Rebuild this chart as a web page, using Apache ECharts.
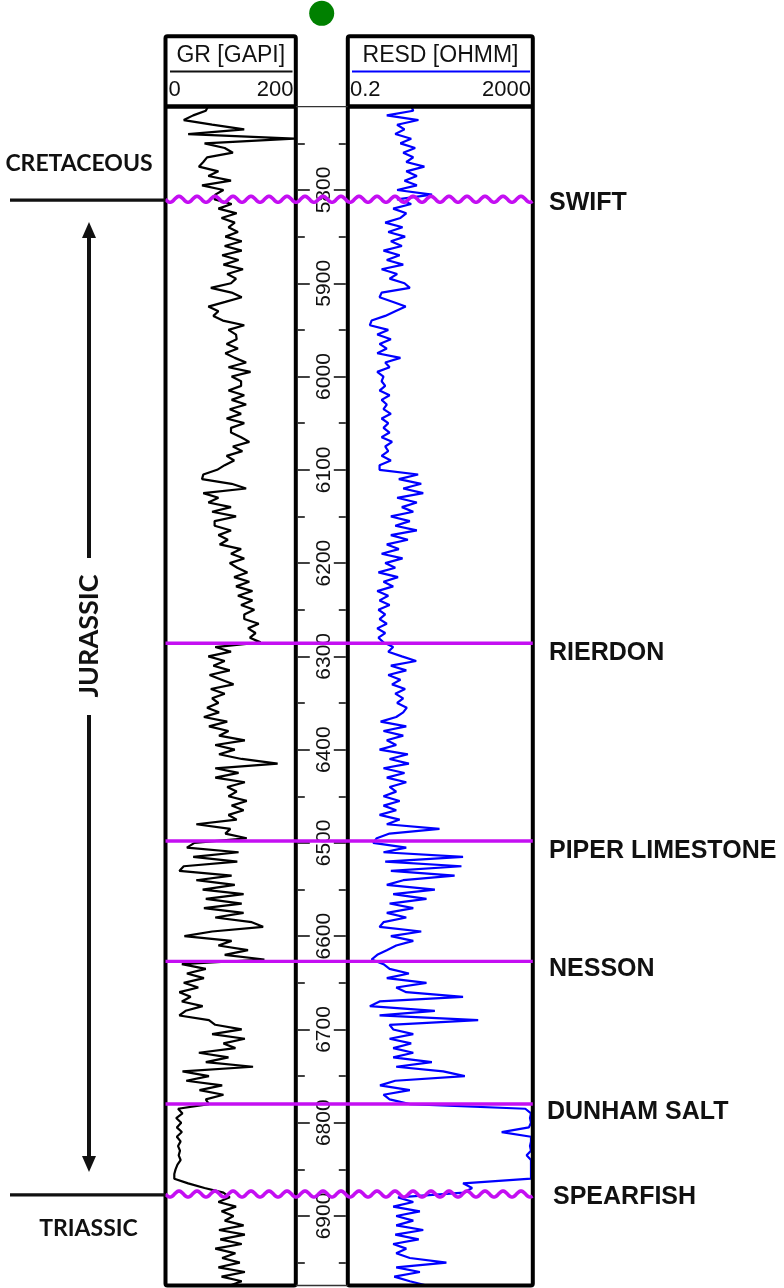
<!DOCTYPE html>
<html>
<head>
<meta charset="utf-8">
<script src="https://cdn.jsdelivr.net/npm/echarts@6/dist/echarts.min.js"></script>
<style>
  html, body { margin: 0; padding: 0; background: #fff; }
  #chart { width: 784px; height: 1288px; }
</style>
</head>
<body>
<div id="chart"></div>
<script>
// ---- Log data -------------------------------------------------------------
const DEPTH_TOP = 5710;      // ft, top of displayed interval
const DEPTH_BASE = 6975;     // ft, base of displayed interval
const SAMPLE_STEP = 5;       // ft between log samples

// Gamma ray, GAPI (one sample every 5 ft from 5710 ft)
const grValues = [
  64, 60, 40, 25, 70, 121, 32, 200, 58, 90,
  103, 62, 56, 49, 80, 64, 100, 54, 88, 75,
  74, 101, 80, 109, 85, 106, 96, 111, 91, 117,
  90, 117, 86, 112, 88, 119, 94, 108, 100, 68,
  101, 117, 91, 64, 80, 72, 87, 121, 96, 108,
  109, 93, 111, 91, 106, 124, 96, 131, 101, 116,
  116, 96, 121, 101, 124, 98, 116, 93, 121, 100,
  100, 116, 129, 103, 118, 93, 105, 90, 78, 56,
  54, 101, 124, 56, 80, 64, 100, 70, 108, 74,
  74, 100, 80, 95, 82, 116, 100, 121, 98, 110,
  126, 105, 129, 108, 134, 111, 134, 116, 137, 121,
  121, 144, 127, 139, 130, 147, 75, 100, 64, 90,
  72, 98, 66, 85, 104, 68, 90, 70, 80, 62,
  81, 57, 94, 65, 96, 81, 122, 75, 106, 81,
  117, 174, 75, 112, 75, 122, 94, 109, 96, 125,
  101, 120, 96, 109, 45, 99, 91, 125, 42, 30,
  112, 40, 110, 25, 18, 101, 45, 106, 55, 120,
  60, 117, 57, 120, 75, 133, 151, 70, 26, 101,
  80, 127, 90, 153, 22, 60, 30, 57, 25, 48,
  18, 36, 22, 55, 28, 18, 65, 75, 117, 70,
  122, 88, 107, 49, 96, 60, 135, 23, 65, 29,
  86, 50, 88, 60, 65, 16, 23, 13, 21, 14,
  22, 14, 20, 16, 19, 17, 20, 15, 12, 10,
  10, 32, 58, 88, 98, 80, 108, 85, 104, 90,
  120, 81, 122, 83, 117, 75, 107, 86, 114, 80,
  122, 85, 117, 96, 100
];

// Deep resistivity, ohm.m (same sampling)
const resdValues = [
  4.5, 5.0, 1.3, 6.5, 2.2, 3.2, 2.0, 4.5, 2.6, 5.5,
  3.0, 5.0, 3.5, 8.8, 3.5, 6.0, 3.2, 6.0, 2.2, 13,
  2.2, 4.5, 1.8, 3.5, 2.6, 1.2, 2.9, 1.4, 3.3, 1.6,
  2.8, 1.1, 2.5, 1.3, 3.0, 1.0, 2.2, 1.5, 3.2, 4.2,
  1.0, 0.9, 1.8, 3.4, 2.0, 1.2, 0.6, 0.55, 1.4, 0.8,
  1.6, 0.9, 1.3, 0.8, 2.6, 1.2, 1.5, 0.8, 1.1, 1.0,
  1.2, 0.9, 1.5, 1.0, 1.3, 1.1, 1.6, 1.0, 1.4, 1.1,
  1.5, 1.0, 1.7, 1.2, 1.4, 1.0, 1.6, 0.9, 0.9, 6.4,
  2.4, 7.5, 3.0, 8.3, 2.2, 6.0, 2.8, 5.0, 1.6, 4.2,
  2.0, 6.0, 1.6, 3.8, 1.3, 2.4, 1.0, 2.9, 1.2, 2.0,
  0.85, 2.3, 1.1, 1.8, 0.8, 1.4, 0.9, 1.5, 0.85, 1.2,
  0.9, 1.3, 0.8, 1.2, 0.85, 1.1, 1.8, 1.4, 2.8, 5.8,
  1.6, 3.5, 1.4, 2.6, 1.7, 3.3, 2.0, 3.0, 2.2, 3.6,
  3.0, 2.1, 0.95, 3.5, 1.1, 3.0, 1.3, 2.1, 0.9, 3.8,
  1.5, 4.0, 1.1, 3.2, 1.3, 3.5, 1.5, 2.1, 1.1, 2.5,
  1.1, 2.1, 0.9, 2.5, 1.3, 19, 1.5, 0.78, 0.65, 3.5,
  1.1, 63, 1.2, 58, 1.6, 41, 3.0, 1.3, 15, 1.8,
  9.8, 1.5, 5.0, 1.3, 3.5, 1.1, 0.9, 7.5, 1.6, 5.0,
  2.1, 1.3, 0.8, 0.6, 1.1, 1.5, 4.0, 1.3, 9.8, 2.1,
  3.5, 63, 0.9, 0.55, 15, 0.9, 136, 1.5, 1.8, 5.0,
  1.5, 4.5, 1.8, 5.0, 1.8, 12.9, 2.1, 23, 69, 2.0,
  0.92, 4.2, 1.1, 1.5, 4.2, 1500, 2000, 1900, 2000, 1800,
  450, 2000, 2000, 1900, 2000, 1600, 2000, 2000, 2000, 2000,
  2000, 63, 100, 65, 2.3, 5.0, 1.8, 7.0, 2.1, 5.0,
  2.1, 8.3, 2.0, 6.6, 1.8, 3.5, 2.1, 4.2, 27, 2.1,
  7.0, 1.9, 4.2, 11, 3.0
];

// Depth scale ticks (ft)
const depthLabels = [5800, 5900, 6000, 6100, 6200, 6300, 6400, 6500, 6600, 6700, 6800, 6900];
const depthMinorTicks = [5750, 5850, 5950, 6050, 6150, 6250, 6350, 6450, 6550, 6650, 6750, 6850, 6950];

// Formation tops
const topNames = ['SWIFT', 'RIERDON', 'PIPER LIMESTONE', 'NESSON', 'DUNHAM SALT', 'SPEARFISH'];
const topDepths = [5810, 6286, 6498, 6627, 6780, 6876.5];
const topUnconformity = [true, false, false, false, false, true];

// Systems
const systemNames = ['CRETACEOUS', 'JURASSIC', 'TRIASSIC'];

// Curve axis ranges
const grRange = [0, 200];
const resdRange = [0.2, 2000];

// ---- Layout / style -------------------------------------------------------
const PX_TOP = 106.05;
const PX_PER_FT = 0.93273;
const PLOT_H = (DEPTH_BASE - DEPTH_TOP) * PX_PER_FT;
const TOP_COLOR = '#c40ff2';
const TOP_LABEL_X = [549, 549, 549, 549, 547, 553];
const TOP_LABEL_DY = [4, 10, 10, 8, 8, 3];

const sampleDepths = grValues.map((_, i) => DEPTH_TOP + i * SAMPLE_STEP);
const grData = sampleDepths.map((d, i) => [grValues[i], d]);
const resdData = sampleDepths.map((d, i) => [resdValues[i], d]);

const depthAxisBase = {
  type: 'value', inverse: true, min: DEPTH_TOP, max: DEPTH_BASE,
  splitLine: { show: false }, axisLine: { show: false, onZero: false }
};
function hiddenY(gridIndex) {
  return Object.assign({}, depthAxisBase, { gridIndex, show: false });
}
function tickAxis(position, values, len, withLabels) {
  return Object.assign({}, depthAxisBase, {
    gridIndex: 1, position,
    axisTick: { show: true, inside: true, length: len, customValues: values,
                lineStyle: { color: '#111', width: 1.6 } },
    axisLabel: withLabels ? {
      show: true, inside: true, rotate: 90, margin: 26, customValues: values,
      formatter: v => String(v),
      align: 'center', verticalAlign: 'middle',
      fontFamily: 'Liberation Sans, Arial, sans-serif', fontSize: 21, color: '#111'
    } : { show: false }
  });
}

const FONT_HDR = '23px "Liberation Sans", Arial, sans-serif';
const FONT_SCALE = '22px "Liberation Sans", Arial, sans-serif';
const FONT_TOP = 'bold 25px "Liberation Sans", Arial, sans-serif';
const FONT_SYS = 'bold 23px Lato, "Open Sans", sans-serif';
const FONT_SYS_BIG = 'bold 27px Lato, "Open Sans", sans-serif';

const GR_L = 165.5, GR_R = 295.8, RS_L = 347.8, RS_R = 532.8;
const HDR_T = 36.2, HDR_B = 106.6, TRK_B = 1285.5;

function frame(l, r) {
  return [
    { type: 'rect', z: 100, shape: { x: l, y: HDR_T, width: r - l, height: TRK_B - HDR_T, r: 2 },
      style: { fill: 'none', stroke: '#000', lineWidth: 4 } },
    { type: 'line', z: 100, shape: { x1: l, y1: HDR_B, x2: r, y2: HDR_B },
      style: { stroke: '#000', lineWidth: 4.5 } }
  ];
}
function txt(text, x, y, font, align, extra) {
  return Object.assign({ type: 'text', z: 100, x, y,
    style: { text, font, fill: '#111', align: align || 'center', verticalAlign: 'middle' } }, extra || {});
}

const graphics = [
  { type: 'circle', z: 100, shape: { cx: 321.7, cy: 13.3, r: 12.5 }, style: { fill: '#008000' } },
  ...frame(GR_L, GR_R),
  ...frame(RS_L, RS_R),
  { type: 'line', z: 100, shape: { x1: GR_R, y1: HDR_B, x2: RS_L, y2: HDR_B }, style: { stroke: '#333', lineWidth: 1.3 } },
  { type: 'line', z: 100, shape: { x1: GR_R, y1: TRK_B, x2: RS_L, y2: TRK_B }, style: { stroke: '#333', lineWidth: 1.3 } },
  // track headers
  txt('GR [GAPI]', 230.8, 56, FONT_HDR),
  { type: 'line', z: 100, shape: { x1: 170, y1: 71.5, x2: 292.5, y2: 71.5 }, style: { stroke: '#111', lineWidth: 2 } },
  txt(String(grRange[0]), 168.5, 89.5, FONT_SCALE, 'left'),
  txt(String(grRange[1]), 293.5, 89.5, FONT_SCALE, 'right'),
  txt('RESD [OHMM]', 440.5, 56, FONT_HDR),
  { type: 'line', z: 100, shape: { x1: 352, y1: 71.5, x2: 530, y2: 71.5 }, style: { stroke: '#0000ff', lineWidth: 2 } },
  txt(String(resdRange[0]), 350, 89.5, FONT_SCALE, 'left'),
  txt(String(resdRange[1]), 531, 89.5, FONT_SCALE, 'right'),
  // systems column
  txt(systemNames[0], 79, 164, FONT_SYS),
  txt(systemNames[1], 89, 636, FONT_SYS_BIG, 'center', { rotation: Math.PI / 2 }),
  txt(systemNames[2], 88.5, 1228.5, FONT_SYS),
  { type: 'line', z: 100, shape: { x1: 89, y1: 234, x2: 89, y2: 558 }, style: { stroke: '#111', lineWidth: 4 } },
  { type: 'line', z: 100, shape: { x1: 89, y1: 715, x2: 89, y2: 1160 }, style: { stroke: '#111', lineWidth: 4 } },
  { type: 'polygon', z: 100, shape: { points: [[89, 222], [82, 238], [96, 238]] }, style: { fill: '#111' } },
  { type: 'polygon', z: 100, shape: { points: [[89, 1172], [82, 1156], [96, 1156]] }, style: { fill: '#111' } }
];

// Formation tops drawn across the tracks; unconformities as wavy lines
function renderTop(params, api) {
  const idx = api.value(2);
  const y = api.coord([0, api.value(1)])[1];
  const children = [];
  if (topUnconformity[idx]) {
    const pts = [];
    for (let x = GR_L; x <= RS_R; x += 1) {
      pts.push([x, y + 3 * Math.sin((x - GR_L) / 18 * Math.PI * 2)]);
    }
    children.push({ type: 'polyline', shape: { points: pts },
      style: { stroke: TOP_COLOR, lineWidth: 3.6, fill: 'none' } });
    children.push({ type: 'line', shape: { x1: 10, y1: y + 0.8, x2: GR_L, y2: y + 0.8 },
      style: { stroke: '#111', lineWidth: 3.4 } });
  } else {
    children.push({ type: 'line', shape: { x1: GR_L, y1: y, x2: RS_R, y2: y },
      style: { stroke: TOP_COLOR, lineWidth: 3.4 } });
  }
  children.push({ type: 'text', x: TOP_LABEL_X[idx], y: y + TOP_LABEL_DY[idx],
    style: { text: topNames[idx], font: FONT_TOP, fill: '#111', align: 'left', verticalAlign: 'middle' } });
  return { type: 'group', children };
}

const option = {
  animation: false,
  backgroundColor: '#fff',
  graphic: graphics,
  grid: [
    { left: 168, top: PX_TOP, width: 126, height: PLOT_H },
    { left: 297.8, top: PX_TOP, width: 48, height: PLOT_H },
    { left: 350, top: PX_TOP, width: 181, height: PLOT_H },
    { left: 0, top: PX_TOP, width: 784, height: PLOT_H }
  ],
  xAxis: [
    { gridIndex: 0, type: 'value', min: grRange[0], max: grRange[1], show: false },
    { gridIndex: 1, type: 'value', min: 0, max: 1, show: false },
    { gridIndex: 2, type: 'log', logBase: 10, min: resdRange[0], max: resdRange[1], show: false },
    { gridIndex: 3, type: 'value', min: 0, max: 784, show: false }
  ],
  yAxis: [
    hiddenY(0),
    tickAxis('left', depthLabels, 12, true),
    tickAxis('left', depthMinorTicks, 7, false),
    tickAxis('right', depthLabels, 12, false),
    tickAxis('right', depthMinorTicks, 7, false),
    hiddenY(2),
    hiddenY(3)
  ],
  series: [
    { name: 'GR', type: 'line', xAxisIndex: 0, yAxisIndex: 0, data: grData,
      showSymbol: false, symbol: 'none', clip: true,
      lineStyle: { color: '#000', width: 2.2 } },
    { name: 'RESD', type: 'line', xAxisIndex: 2, yAxisIndex: 5, data: resdData,
      showSymbol: false, symbol: 'none', clip: true,
      lineStyle: { color: '#0000ff', width: 2.2 } },
    { name: 'Tops', type: 'custom', xAxisIndex: 3, yAxisIndex: 6, z: 150, clip: false,
      renderItem: renderTop, encode: { x: 0, y: 1 },
      data: topDepths.map((d, i) => [0, d, i]) }
  ]
};

const chart = echarts.init(document.getElementById('chart'), null, { renderer: 'canvas' });
chart.setOption(option);
</script>
</body>
</html>
